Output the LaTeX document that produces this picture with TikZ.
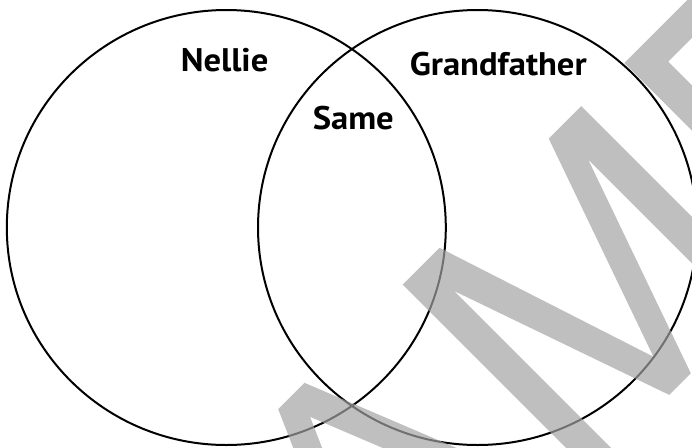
\documentclass[tikz,border=0pt]{standalone}
\usepackage{fontspec}
\setmainfont{PT Sans}[FakeStretch=1.06]
\definecolor{wmgray}{rgb}{0.64,0.64,0.64}
\tikzset{
  venn/.style={draw=black, line width=1.5pt},
  lbl/.style={inner sep=0pt, font=\fontsize{24.5}{29}\selectfont\bfseries, text=black},
  wmark/.style={fill=wmgray, fill opacity=0.69, draw=none}
}
\begin{document}
\begin{tikzpicture}[x=0.75pt,y=-0.75pt]
\useasboundingbox (0,0) rectangle (692,447);
\begin{scope}
\clip (0,0) rectangle (692,447);
% Venn circles
\draw[venn] (226.3,227.5) ellipse [x radius=219.5, y radius=217.5];
\draw[venn] (477.5,227.5) ellipse [x radius=219.5, y radius=217.5];
% labels
\node[lbl, anchor=base west] (nellie) at (180.5,71) {Nellie};
\node[lbl, anchor=base west] (same) at (312.5,129.3) {Same};
\node[lbl, anchor=base west] (grandfather) at (409.5,75) {Grandfather};
% watermark letters (text frame rotated 45 degrees)
\begin{scope}[x={(0.53033pt,0.53033pt)}, y={(-0.53033pt,0.53033pt)}]
% A
\fill[wmark] (-92.6,-486) -- (-55.4,-486) -- (51.2,-752.5) -- (19.9,-752.5)
  -- (-75.5,-514) -- (-180.4,-752.5) -- (-209.9,-752.5) -- cycle;
% M
\fill[wmark] (83.5,-760) -- (83.5,-486) -- (135.6,-486) -- (209.8,-714.3)
  -- (290,-486) -- (336,-486) -- (336,-760) -- (303,-760) -- (303,-529)
  -- (224.5,-752.5) -- (194,-752.5) -- (115.4,-527) -- (115.4,-760) -- cycle;
% P (stem and top bar)
\fill[wmark] (397,-486) -- (520,-486) -- (520,-516) -- (429,-516)
  -- (429,-760) -- (397,-760) -- cycle;
\end{scope}
\end{scope}
\end{tikzpicture}
\end{document}
